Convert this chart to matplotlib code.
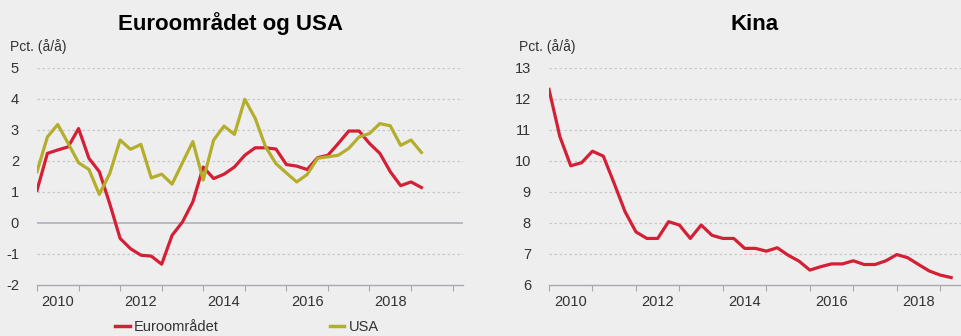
import matplotlib
matplotlib.use("Agg")
import matplotlib.pyplot as plt
from matplotlib.lines import Line2D
import numpy as np

plt.rcParams['font.family'] = ['Liberation Sans', 'DejaVu Sans']
plt.rcParams['axes.unicode_minus'] = False

start_year = 2010
euro = [1.05, 2.24, 2.35, 2.45, 3.04, 2.08, 1.65, 0.62, -0.50, -0.83, -1.04, -1.07,
        -1.33, -0.40, 0.03, 0.68, 1.80, 1.43, 1.57, 1.80, 2.18, 2.42, 2.42, 2.38,
        1.88, 1.83, 1.72, 2.10, 2.18, 2.56, 2.96, 2.96, 2.56, 2.24, 1.65, 1.20,
        1.32, 1.14]
usa = [1.65, 2.77, 3.17, 2.56, 1.94, 1.72, 0.92, 1.59, 2.67, 2.37, 2.53, 1.45,
       1.57, 1.25, 1.94, 2.62, 1.38, 2.67, 3.12, 2.85, 3.98, 3.37, 2.45, 1.91,
       1.61, 1.32, 1.56, 2.08, 2.13, 2.18, 2.40, 2.77, 2.88, 3.20, 3.13, 2.50,
       2.67, 2.27]
china = [12.3, 10.78, 9.84, 9.94, 10.31, 10.15, 9.27, 8.36, 7.71, 7.50, 7.50, 8.04,
         7.93, 7.50, 7.93, 7.60, 7.50, 7.50, 7.18, 7.18, 7.09, 7.20, 6.96, 6.77,
         6.48, 6.59, 6.68, 6.68, 6.78, 6.66, 6.66, 6.78, 6.98, 6.88, 6.66, 6.45,
         6.32, 6.24]
year_labels = ['2010', '2012', '2014', '2016', '2018']
titles = ['Euroområdet og USA', 'Kina']
series_names = ['Euroområdet', 'USA']
ylabel = 'Pct. (å/å)'

RED = '#d41f35'
OLIVE = '#b3ae2c'
BG = '#eeeeee'
TXT = '#333333'
W, H = 962, 336

fig = plt.figure(figsize=(W / 100, H / 100), dpi=100, facecolor=BG)

def quarters(n):
    return start_year + np.arange(n) * 0.25

def style(ax, ymin, ymax, xmax, years_end, zero=False):
    ax.set_facecolor(BG)
    ax.set_ylim(ymin, ymax)
    ax.set_xlim(start_year, xmax)
    for s in ['top', 'right', 'left']:
        ax.spines[s].set_visible(False)
    ax.spines['bottom'].set_color('#a8a8b0')
    ax.spines['bottom'].set_linewidth(1.0)
    ax.set_yticks(range(ymin, ymax + 1))
    ax.tick_params(axis='y', length=0, pad=13, labelsize=10.5, labelcolor=TXT)
    for v in range(ymin + 1, ymax + 1):
        if zero and v == 0:
            ax.axhline(0, color='#b0b0bc', lw=1.2, zorder=1)
        else:
            ax.axhline(v, color='#c8c8c8', lw=0.9, ls=(0, (2, 2)), zorder=1)
    ax.set_xticks(np.arange(start_year, years_end + 1))
    ax.set_xticklabels([])
    ax.tick_params(axis='x', which='major', length=4, color='#a8a8b0', direction='out')
    ax.set_xticks([int(y) + 0.5 for y in year_labels], minor=True)
    ax.set_xticklabels(year_labels, minor=True)
    ax.tick_params(axis='x', which='minor', length=0, pad=7, labelsize=10.5, labelcolor=TXT)

ax1 = fig.add_axes([37 / W, 1 - 285 / H, (463 - 37) / W, (285 - 67.7) / H])
style(ax1, -2, 5, 2020.25, 2020, zero=True)
ax1.plot(quarters(len(euro)), euro, color=RED, lw=2.3, zorder=3)
ax1.plot(quarters(len(usa)), usa, color=OLIVE, lw=2.3, zorder=3)

ax2 = fig.add_axes([549 / W, 1 - 285 / H, (962 - 549) / W, (285 - 67.7) / H])
style(ax2, 6, 13, 2019.5, 2019)
ax2.plot(quarters(len(china)), china, color=RED, lw=2.3, zorder=3)

fig.text(231 / W, 1 - 24 / H, titles[0], ha='center', va='center',
         fontsize=16, fontweight='bold', color='black')
fig.text(755 / W, 1 - 24 / H, titles[1], ha='center', va='center',
         fontsize=16, fontweight='bold', color='black')
fig.text(10 / W, 1 - 47 / H, ylabel, ha='left', va='center', fontsize=10, color=TXT)
fig.text(519 / W, 1 - 47 / H, ylabel, ha='left', va='center', fontsize=10, color=TXT)

handles = [Line2D([], [], color=RED, lw=2.5), Line2D([], [], color=OLIVE, lw=2.5)]
fig.legend(handles, series_names, loc='center left', bbox_to_anchor=(115 / W, 1 - 327 / H),
           ncol=2, frameon=False, fontsize=10.5, handlelength=1.0, handletextpad=0.3,
           columnspacing=7.6, labelcolor=TXT, borderpad=0, borderaxespad=0)

fig.savefig('out.png', dpi=100, facecolor=BG)
